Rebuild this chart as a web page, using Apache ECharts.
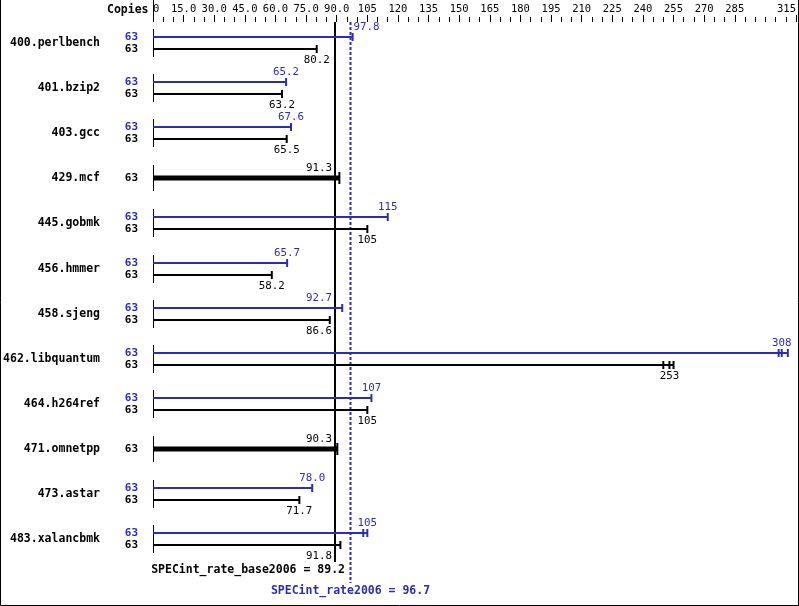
<!DOCTYPE html>
<html><head><meta charset="utf-8">
<script src="https://cdn.jsdelivr.net/npm/echarts@6/dist/echarts.min.js"></script>
<style>html,body{margin:0;padding:0;background:#fff}#c{width:799px;height:606px}</style>
</head><body><div id="c"></div>
<script>
// ---- data ----
const benchmarks = ['400.perlbench','401.bzip2','403.gcc','429.mcf','445.gobmk','456.hmmer','458.sjeng','462.libquantum','464.h264ref','471.omnetpp','473.astar','483.xalancbmk'];
const copiesPeak = [63,63,63,null,63,63,63,63,63,null,63,63];
const copiesBase = [63,63,63,63,63,63,63,63,63,63,63,63];
const peakRatio  = [97.8,65.2,67.6,null,115,65.7,92.7,308,107,null,78.0,105];
const baseRatio  = [80.2,63.2,65.5,91.3,105,58.2,86.6,253,105,90.3,71.7,91.8];
const peakRunLo  = [97.8,65.2,67.3,null,115,65.7,92.7,306.5,107,null,78.0,103];
const peakRunHi  = [97.8,65.2,67.6,null,115,65.7,92.7,311,107,null,78.0,105];
const baseRunLo  = [80.2,63.2,65.5,91.3,105,58.2,86.6,250,105,90.3,71.7,91.8];
const baseRunHi  = [80.2,63.2,65.5,91.3,105,58.2,86.6,255,105,90.3,71.7,91.8];
const baseScore = 89.2;
const peakScore = 96.7;
const tickValues = [0,15,30,45,60,75,90,105,120,135,150,165,180,195,210,225,240,255,270,285,315];
const tickLabels = ['0','15.0','30.0','45.0','60.0','75.0','90.0','105','120','135','150','165','180','195','210','225','240','255','270','285','315'];
const minorTickStep = 5;
const axisMax = 315;

// ---- style ----
const BLUE = '#2c2cb4';
const MONO = "'DejaVu Sans Mono', monospace";
function textW(s, size){ return s.length * size * 0.602; }

function renderRow(params, api){
  const i = params.dataIndex;
  const c = api.coord([0, i]);
  const x0 = c[0], cy = Math.round(c[1]);
  const xBL = api.coord([baseScore, i])[0];
  const xPL = api.coord([peakScore, i])[0];
  const ch = [];
  const hasPeak = peakRatio[i] != null;
  const yPeak = cy - 6, yBase = hasPeak ? cy + 6 : cy;
  ch.push({type:'line', shape:{x1:Math.round(x0)+0.5, y1: hasPeak ? yPeak-8 : cy-13, x2:Math.round(x0)+0.5, y2: hasPeak ? yBase+8 : cy+13}, style:{stroke:'#000', lineWidth:1}});
  ch.push({type:'text', style:{x: x0-53, y: cy, text: benchmarks[i], align:'right', verticalAlign:'middle', font:'bold 11.5px '+MONO, fill:'#000'}});
  function bar(val, lo, hi, y, color, thick, labelPos, copies){
    const xv = api.coord([val, i])[0], xlo = api.coord([lo, i])[0], xhi = api.coord([hi, i])[0];
    const xEnd = Math.max(xv, xhi);
    ch.push({type:'line', shape:{x1:x0, y1:y, x2:xEnd, y2:y}, style:{stroke:color, lineWidth:thick}});
    const capH = thick > 3 ? 6 : 4;
    const caps = [xv];
    [xlo, xhi].forEach(x => { if (caps.every(q => Math.abs(q-x) > 2)) caps.push(x); });
    caps.forEach(x => ch.push({type:'line', shape:{x1:x, y1:y-capH, x2:x, y2:y+capH}, style:{stroke:color, lineWidth:2}}));
    const s = val < 100 ? val.toFixed(1) : String(Math.round(val));
    const w = textW(s, 10.8);
    let tx = xv, align = 'center';
    const l = xv - w/2, r = xv + w/2;
    const hit = (L) => r > L-3 && l < L+3;
    if (hit(xBL) || hit(xPL)) {
      if (xv < xPL - 3) { align = 'right'; tx = xBL - 3; }
      else { align = 'left'; tx = xPL + 3; }
    }
    const ty = labelPos === 'above' ? y - 10 : y + 11;
    ch.push({type:'text', style:{x: tx, y: ty, text: s, align: align, verticalAlign:'middle', font:'10.8px '+MONO, fill: color}});
    ch.push({type:'text', style:{x: x0-15, y: y, text: String(copies), align:'right', verticalAlign:'middle', font:'bold 11px '+MONO, fill: color}});
  }
  if (hasPeak) {
    bar(peakRatio[i], peakRunLo[i], peakRunHi[i], yPeak, BLUE, 2, 'above', copiesPeak[i]);
    bar(baseRatio[i], baseRunLo[i], baseRunHi[i], yBase, '#000', 2, 'below', copiesBase[i]);
  } else {
    bar(baseRatio[i], baseRunLo[i], baseRunHi[i], yBase, '#000', 5, 'above', copiesBase[i]);
  }
  return {type:'group', children: ch};
}

function renderRef(params, api){
  const xb = Math.round(api.coord([baseScore, 0])[0]);
  const xp = Math.round(api.coord([peakScore, 0])[0]) + 0.5;
  const x0 = Math.round(api.coord([0, 0])[0]) + 0.5;
  const top = params.coordSys.y, bottom = params.coordSys.y + params.coordSys.height;
  return {type:'group', children:[
    {type:'line', shape:{x1:x0, y1:0, x2:x0, y2:top}, style:{stroke:'#000', lineWidth:1}},
    {type:'text', style:{x: x0-5, y: top-12, text:'Copies', align:'right', verticalAlign:'middle', font:'bold 11.5px '+MONO, fill:'#000'}},
    {type:'line', shape:{x1:xb, y1:top, x2:xb, y2:bottom}, style:{stroke:'#000', lineWidth:2}},
    {type:'line', shape:{x1:xp, y1:top, x2:xp, y2:bottom+21}, style:{stroke:BLUE, lineWidth:2, lineDash:[3,2]}},
    {type:'text', style:{x: xb+10, y: bottom+8, text:'SPECint_rate_base2006 = ' + baseScore.toFixed(1), align:'right', verticalAlign:'middle', font:'bold 11.5px '+MONO, fill:'#000'}},
    {type:'text', style:{x: xp, y: bottom+29, text:'SPECint_rate2006 = ' + peakScore.toFixed(1), align:'center', verticalAlign:'middle', font:'bold 11.5px '+MONO, fill:BLUE}}
  ]};
}

const chart = echarts.init(document.getElementById('c'), null, {renderer:'canvas'});
const gridBox = {left:153, right:3, top:22, bottom:44};
chart.setOption({
  animation:false,
  backgroundColor:'#fff',
  grid:[Object.assign({}, gridBox), Object.assign({}, gridBox)],
  xAxis:[
    {type:'value', gridIndex:0, min:0, max:axisMax, interval:minorTickStep, position:'top',
     axisLine:{show:false, onZero:false}, splitLine:{show:false},
     axisTick:{show:true, length:5, lineStyle:{color:'#000', width:1}}, axisLabel:{show:false}},
    {type:'value', gridIndex:1, min:0, max:axisMax, interval:15, position:'top',
     axisLine:{show:false, onZero:false}, splitLine:{show:false},
     axisTick:{show:true, length:7, customValues: tickValues, lineStyle:{color:'#000', width:1}},
     axisLabel:{show:true, customValues: tickValues, margin:7, fontFamily:MONO, fontSize:10.5, color:'#000',
       formatter: v => { const k = tickValues.indexOf(v); return k >= 0 ? tickLabels[k] : ''; },
       alignMinLabel:'left', alignMaxLabel:'right'}}
  ],
  yAxis:[
    {type:'value', gridIndex:0, inverse:true, min:-0.466, max:11.507, show:false},
    {type:'value', gridIndex:1, min:0, max:1, show:false}
  ],
  graphic:[{type:'polyline', silent:true, shape:{points:[[0.5,0],[0.5,605.5],[798.5,605.5],[798.5,0]]}, style:{stroke:'#000', fill:null, lineWidth:1}}],
  series:[
    {type:'custom', xAxisIndex:0, yAxisIndex:0, clip:false, renderItem: renderRef, data:[[baseScore, 0]]},
    {type:'custom', xAxisIndex:0, yAxisIndex:0, clip:false, renderItem: renderRow,
     data: benchmarks.map((b, i) => [baseRatio[i], i])}
  ]
});
</script></body></html>
